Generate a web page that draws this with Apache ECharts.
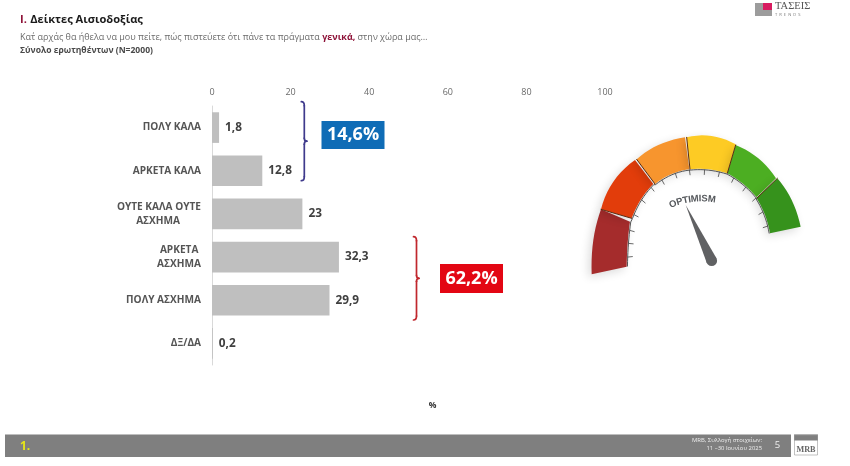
<!DOCTYPE html>
<html><head><meta charset="utf-8">
<style>html,body{margin:0;padding:0;background:#fff}#c{width:850px;height:466px}</style>
<script src="https://cdn.jsdelivr.net/npm/echarts@6/dist/echarts.min.js"></script>
</head><body><div id="c"></div>
<script>
const categories = ['ΠΟΛΥ ΚΑΛΑ','ΑΡΚΕΤΑ ΚΑΛΑ','ΟΥΤΕ ΚΑΛΑ ΟΥΤΕ\nΑΣΧΗΜΑ        ','ΑΡΚΕΤΑ \nΑΣΧΗΜΑ','ΠΟΛΥ ΑΣΧΗΜΑ','ΔΞ/ΔΑ'];
const values = [1.8,12.8,23,32.3,29.9,0.2];
const axisMax = 100, axisStep = 20;
const F = '"Open Sans","Noto Sans",sans-serif';

const chart = echarts.init(document.getElementById('c'), null, {renderer:'canvas'});
const g = [];
const txt = (x,y,t,o={}) => g.push({type:'text',x,y,z:o.z||20,style:{text:t,fill:o.c||'#404040',font:(o.w||'normal')+' '+(o.s||10)+'px '+(o.f||F),align:o.a||'left',verticalAlign:'middle'}});
const rect = (x,y,w,h,c,z=5) => g.push({type:'rect',z,shape:{x,y,width:w,height:h},style:{fill:c}});
const line = (x1,y1,x2,y2,c,w=1,z=6) => g.push({type:'line',z,shape:{x1,y1,x2,y2},style:{stroke:c,lineWidth:w,lineCap:'round'}});
const curve = (x1,y1,cx,cy,x2,y2,c,w) => g.push({type:'bezierCurve',z:6,shape:{x1,y1,x2,y2,cpx1:cx,cpy1:cy},style:{stroke:c,lineWidth:w,fill:null,lineCap:'round'}});

// header
g.push({type:'text',x:20,y:20,z:20,style:{text:'{r|Ι.} {b|Δείκτες Αισιοδοξίας}',verticalAlign:'middle',rich:{r:{fill:'#8e1238',font:'bold 11.1px '+F},b:{fill:'#1a1a1a',font:'bold 11.1px '+F}}}});
g.push({type:'text',x:20,y:37,z:20,style:{text:'{a|Κατ΄ αρχάς θα ήθελα να μου πείτε, πώς πιστεύετε ότι πάνε τα πράγματα }{b|γενικά,}{a| στην χώρα μας…}',verticalAlign:'middle',rich:{a:{fill:'#6b6b6b',font:'normal 9px '+F},b:{fill:'#8e1238',font:'bold 9px '+F}}}});
txt(20,51,'Σύνολο ερωτηθέντων (Ν=2000)',{s:8.55,w:'bold',c:'#4a4a4a'});

// top-right logo
rect(755,3,17,13,'#9c9c9c');
rect(763,3,9,7,'#d81b60',6);
txt(775,6.5,'ΤΑΣΕΙΣ',{s:10.5,f:'"Liberation Serif",serif',c:'#555'});
txt(775,14.5,'T  R  E  N  D  S',{s:4,c:'#777'});

// brackets
function bracket(x,y0,y1,c){
  const m=(y0+y1)/2, w=1.7;
  curve(x-3,y0,x,y0,x,y0+4,c,w); line(x,y0+4,x,m-3,c,w);
  curve(x,m-3,x,m,x+2.5,m,c,w); curve(x+2.5,m,x,m,x,m+3,c,w);
  line(x,m+3,x,y1-4,c,w); curve(x,y1-4,x,y1,x-3,y1,c,w);
}
bracket(304.3,101.7,180.7,'#3f3a8c');
bracket(416.5,236.7,320,'#c0272d');
rect(321.5,121,63,28,'#0f6cb6');
txt(353,135,'14,6%',{s:18,w:'bold',c:'#fff',a:'center'});
rect(440,264,63,29,'#e30613');
txt(471.5,278.5,'62,2%',{s:18,w:'bold',c:'#fff',a:'center'});

// % and footer
txt(432.5,405.5,'%',{s:8.5,w:'bold',c:'#333',a:'center'});
rect(5,434.5,786,22.5,'#7f7f7f');
txt(20,447,'1.',{s:12,w:'bold',c:'#e6e619'});
txt(762,440.5,'MRB, Συλλογή στοιχείων:',{s:5.9,c:'#eee',a:'right'});
txt(762,448.5,'11 –30 Ιουνίου 2025',{s:5.9,c:'#eee',a:'right'});
txt(777.5,445,'5',{s:9.5,c:'#eee',a:'center'});
rect(794,434.5,24,6,'#7f7f7f');
g.push({type:'rect',z:5,shape:{x:794.5,y:435,width:23,height:20},style:{fill:null,stroke:'#999',lineWidth:.6}});
txt(806,449.5,'MRB',{s:8.2,w:'bold',f:'"Liberation Serif",serif',c:'#666',a:'center'});

// decorative gauge image: corners traced in a 3x crop space
const P=([x,y])=>[570+x/3,110+y/3];
function q(p0,m,p2,n=10){
  const c=[2*m[0]-(p0[0]+p2[0])/2,2*m[1]-(p0[1]+p2[1])/2], o=[];
  for(let i=0;i<=n;i++){const t=i/n,u=1-t;o.push([u*u*p0[0]+2*u*t*c[0]+t*t*p2[0],u*u*p0[1]+2*u*t*c[1]+t*t*p2[1]]);}
  return o;
}
const gauge=[
 {c:'#a52c2c',oa:[65,493],om:[70,390],ob:[93,298],ib:[180,335],im:[173,400],ia:[170,470]},
 {c:'#e23d0b',oa:[93,298],om:[130,215],ob:[195,150],ib:[250,222],im:[213,268],ia:[185,325]},
 {c:'#f7952e',oa:[200,148],om:[265,105],ob:[345,82],ib:[358,178],im:[305,192],ia:[255,222]},
 {c:'#fdcb24',oa:[350,82],om:[425,78],ob:[497,103],ib:[472,190],im:[415,178],ia:[360,178]},
 {c:'#4cae22',oa:[497,105],om:[565,145],ob:[618,205],ib:[560,262],im:[520,222],ia:[472,190]},
 {c:'#36921c',oa:[622,205],om:[665,270],ob:[692,350],ib:[600,370],im:[585,315],ia:[560,265]}
];
const inner=[];
gauge.forEach((s,i)=>{
  const pts=[...q(P(s.oa),P(s.om),P(s.ob)),...q(P(s.ib),P(s.im),P(s.ia))];
  g.push({type:'polygon',z:3,shape:{points:pts},style:{fill:s.c,shadowBlur:10,shadowColor:'rgba(0,0,0,0.14)',shadowOffsetX:-3,shadowOffsetY:3}});
  if(i>0){const a=P(s.oa),b=P(s.ia); line(a[0],a[1],b[0],b[1],'#5c2a10',1,4);}
  inner.push(...q(P(s.ia),P(s.im),P(s.ib)));
});
// scale arc and ticks follow the inner edge of the coloured band
const hub=[700,250], inward=(p,d)=>{const dx=hub[0]-p[0],dy=hub[1]-p[1],l=Math.hypot(dx,dy);return [p[0]+dx/l*d,p[1]+dy/l*d];};
g.push({type:'polyline',z:4,shape:{points:inner.map(p=>inward(p,0.8))},style:{stroke:'#555',lineWidth:1,fill:null}});
let acc=6.5;
for(let i=1;i<inner.length;i++){
  const a=inner[i-1],b=inner[i],l=Math.hypot(b[0]-a[0],b[1]-a[1]);
  acc+=l;
  if(acc>=13){acc=0;const s=inward(b,0.8),e=inward(b,5.5);line(s[0],s[1],e[0],e[1],'#444',0.8,4);}
}
const rad=d=>d*Math.PI/180;
const word='OPTIMISM', em={O:.778,P:.667,T:.611,I:.278,M:.833,S:.667}, fs=9.5, wr=78, wx=701.7, wy=276.7;
const total=[...word].reduce((a,c)=>a+em[c]*fs,0);
let run=0;
[...word].forEach(ch=>{
  const w=em[ch]*fs, d=-97+(run+w/2-total/2)/wr*180/Math.PI; run+=w;
  g.push({type:'text',x:wx+wr*Math.cos(rad(d)),y:wy+wr*Math.sin(rad(d)),z:6,rotation:-rad(d+90),
    style:{text:ch,fill:'#55585c',font:'bold '+fs+'px "Liberation Sans",sans-serif',align:'center',verticalAlign:'middle'}});
});
g.push({type:'polygon',z:6,shape:{points:[[685.7,205],[716.6,258.5],[706.8,262.9]]},style:{fill:'#606163'}});
g.push({type:'circle',z:6,shape:{cx:711.7,cy:260.7,r:5.4},style:{fill:'#606163'}});

chart.setOption({
  animation:false,
  backgroundColor:'#fff',
  textStyle:{fontFamily:F},
  grid:{left:212,right:245,top:106,height:259},
  xAxis:{type:'value',position:'top',min:0,max:axisMax,interval:axisStep,
    axisLine:{show:false},axisTick:{show:false},splitLine:{show:false},
    axisLabel:{color:'#6a6a6a',fontSize:9,margin:9}},
  yAxis:{type:'category',inverse:true,data:categories,
    axisLine:{show:true,lineStyle:{color:'#d9d9d9',width:1}},axisTick:{show:false},
    axisLabel:{color:'#555',fontSize:10.1,fontWeight:'bold',margin:11,lineHeight:14.5,align:'right'}},
  series:[{type:'bar',data:values,barWidth:'71%',itemStyle:{color:'#bfbfbf'},
    label:{show:true,position:'right',distance:6,color:'#404040',fontSize:11.8,fontWeight:'bold',
      formatter:p=>String(p.value).replace('.',',')}}],
  graphic:{elements:g}
});
</script></body></html>
